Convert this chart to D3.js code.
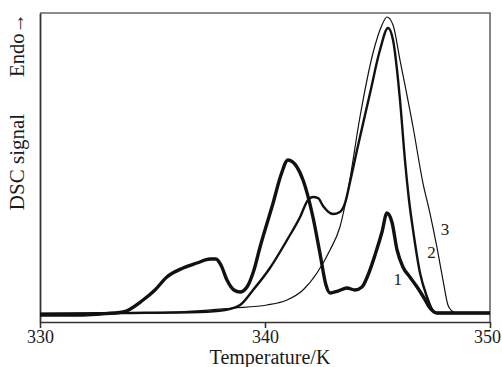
<!DOCTYPE html>
<html>
<head>
<meta charset="utf-8">
<script src="https://cdn.jsdelivr.net/npm/d3@7"></script>
<style>
	body { margin: 0; background: #fff; }
	svg text { font-family: "Liberation Serif", "Times New Roman", serif; fill: #1a1a1a; }
</style>
</head>
<body>
<div id="chart"></div>
<script>

// temperature (K) / DSC signal (arb. units, baseline = 0)
var curve1T = [330.00, 331.78, 332.67, 333.69, 334.58, 335.11, 335.64, 336.36, 336.98, 337.56, 337.82, 338.04, 338.31, 338.62, 338.89, 339.20, 339.51, 339.78, 340.36, 340.71, 341.02, 341.42, 341.69, 342.13, 342.44, 342.71, 342.89, 343.24, 343.64, 344.00, 344.31, 344.58, 344.89, 345.20, 345.42, 345.64, 345.87, 346.13, 346.44, 346.76, 347.07, 347.33, 347.64, 348.22, 350.00];
var curve1S = [-0.67, -0.67, -0.33, 0.33, 4.33, 7.67, 12.0, 15.0, 16.67, 18.0, 18.0, 16.0, 11.0, 7.67, 7.0, 8.67, 14.33, 22.0, 36.67, 46.0, 51.0, 48.67, 44.33, 32.0, 20.0, 9.33, 6.67, 7.33, 8.33, 7.67, 8.67, 12.67, 19.33, 27.0, 33.33, 30.33, 21.0, 15.33, 12.0, 8.67, 5.0, 1.67, 0, 0, 0];

var curve2T = [330.00, 333.56, 337.11, 338.22, 338.89, 339.47, 340.22, 340.98, 341.56, 341.91, 342.13, 342.36, 342.58, 343.02, 343.33, 343.56, 343.78, 344.09, 344.67, 345.11, 345.47, 345.69, 346.00, 346.22, 346.40, 346.58, 346.89, 347.20, 347.42, 347.64, 350.00];
var curve2S = [-0.33, 0, 0.33, 1.0, 2.67, 7.67, 15.0, 24.33, 32.0, 37.67, 38.67, 38.33, 35.67, 33.0, 33.67, 36.67, 43.67, 54.33, 73.33, 87.67, 95.0, 91.0, 71.0, 51.0, 37.67, 27.67, 13.33, 5.33, 1.33, 0, 0];

var curve3T = [330.00, 334.89, 338.58, 340.09, 340.98, 341.69, 342.31, 342.89, 343.33, 343.69, 344.22, 344.80, 345.20, 345.42, 345.69, 346.00, 346.58, 347.02, 347.33, 347.64, 347.91, 348.13, 348.31, 348.49, 350.00];
var curve3S = [0, 0, 1.67, 2.67, 4.33, 7.67, 13.33, 21.0, 28.67, 41.0, 65.33, 86.67, 96.0, 98.67, 96.0, 84.33, 62.0, 43.33, 33.33, 22.0, 11.0, 2.67, 0.67, 0, 0];

var xTicks = [330, 340, 350];
var curveLabels = ["1", "2", "3"];
var labelAt = [[345.9, 9.5], [347.4, 18.5], [348.0, 26.0]];


var width = 502, height = 367,
	margins = {top: 13, right: 12, bottom: 45, left: 40};

var xScale = d3.scaleLinear().domain([330, 350]).range([margins.left, width - margins.right]);
var yScale = d3.scaleLinear().domain([-3, 100]).range([height - margins.bottom, margins.top]);

var svg = d3.select("#chart")
	.append("svg")
		.attr("width", width)
		.attr("height", height);

// frame (top and right)
svg.append("path")
	.attr("d", "M" + xScale(330) + "," + yScale(100) + "H" + xScale(350) + "V" + yScale(-3))
	.attr("fill", "none")
	.attr("stroke", "#666")
	.attr("stroke-width", 1.6);

var xAxis = d3.axisBottom().scale(xScale).tickValues(xTicks).tickSize(6).tickSizeOuter(0).tickPadding(2);
var yAxis = d3.axisLeft().scale(yScale).tickValues([]).tickSizeOuter(0);

var gx = svg.append("g")
	.attr("class", "x axis")
	.attr("transform", "translate(0," + yScale(-3) + ")")
	.call(xAxis);

gx.selectAll("path, line").attr("stroke", "#333").attr("stroke-width", 1.6);
gx.selectAll("text").attr("font-size", 18).attr("fill", "#1a1a1a");
// last label sits against the right edge
gx.selectAll(".tick text").filter(function(d) { return d == 350; }).attr("dx", -3);

var gy = svg.append("g")
	.attr("class", "y axis")
	.attr("transform", "translate(" + xScale(330) + ",0)")
	.call(yAxis);

gy.selectAll("path").attr("stroke", "#333").attr("stroke-width", 1.8);


var line = d3.line()
	.x(function(d) { return xScale(d[0]); })
	.y(function(d) { return yScale(d[1]); })
	.curve(d3.curveMonotoneX);

var series = [
	{t: curve3T, s: curve3S, w: 1.2},
	{t: curve2T, s: curve2S, w: 2.4},
	{t: curve1T, s: curve1S, w: 3.4}
];

series.forEach(function(c) {
	svg.append("path")
		.datum(d3.zip(c.t, c.s))
		.attr("fill", "none")
		.attr("stroke", "#111")
		.attr("stroke-width", c.w)
		.attr("stroke-linejoin", "round")
		.attr("d", line);
});

svg.append("g")
	.selectAll("text")
	.data(curveLabels)
	.enter().append("text")
		.attr("x", function(d, i) { return xScale(labelAt[i][0]); })
		.attr("y", function(d, i) { return yScale(labelAt[i][1]); })
		.attr("text-anchor", "middle")
		.attr("font-size", 17)
		.text(function(d) { return d; });

svg.append("text")
	.attr("x", xScale(340) + 5)
	.attr("y", 364)
	.attr("text-anchor", "middle")
	.attr("font-size", 20)
	.text("Temperature/K");

svg.append("text")
	.attr("transform", "translate(24,45) rotate(-90)")
	.attr("text-anchor", "middle")
	.attr("font-size", 20.5)
	.text("Endo\u2192");

svg.append("text")
	.attr("transform", "translate(24,162) rotate(-90)")
	.attr("text-anchor", "middle")
	.attr("font-size", 21)
	.text("DSC signal");

</script>
</body>
</html>
